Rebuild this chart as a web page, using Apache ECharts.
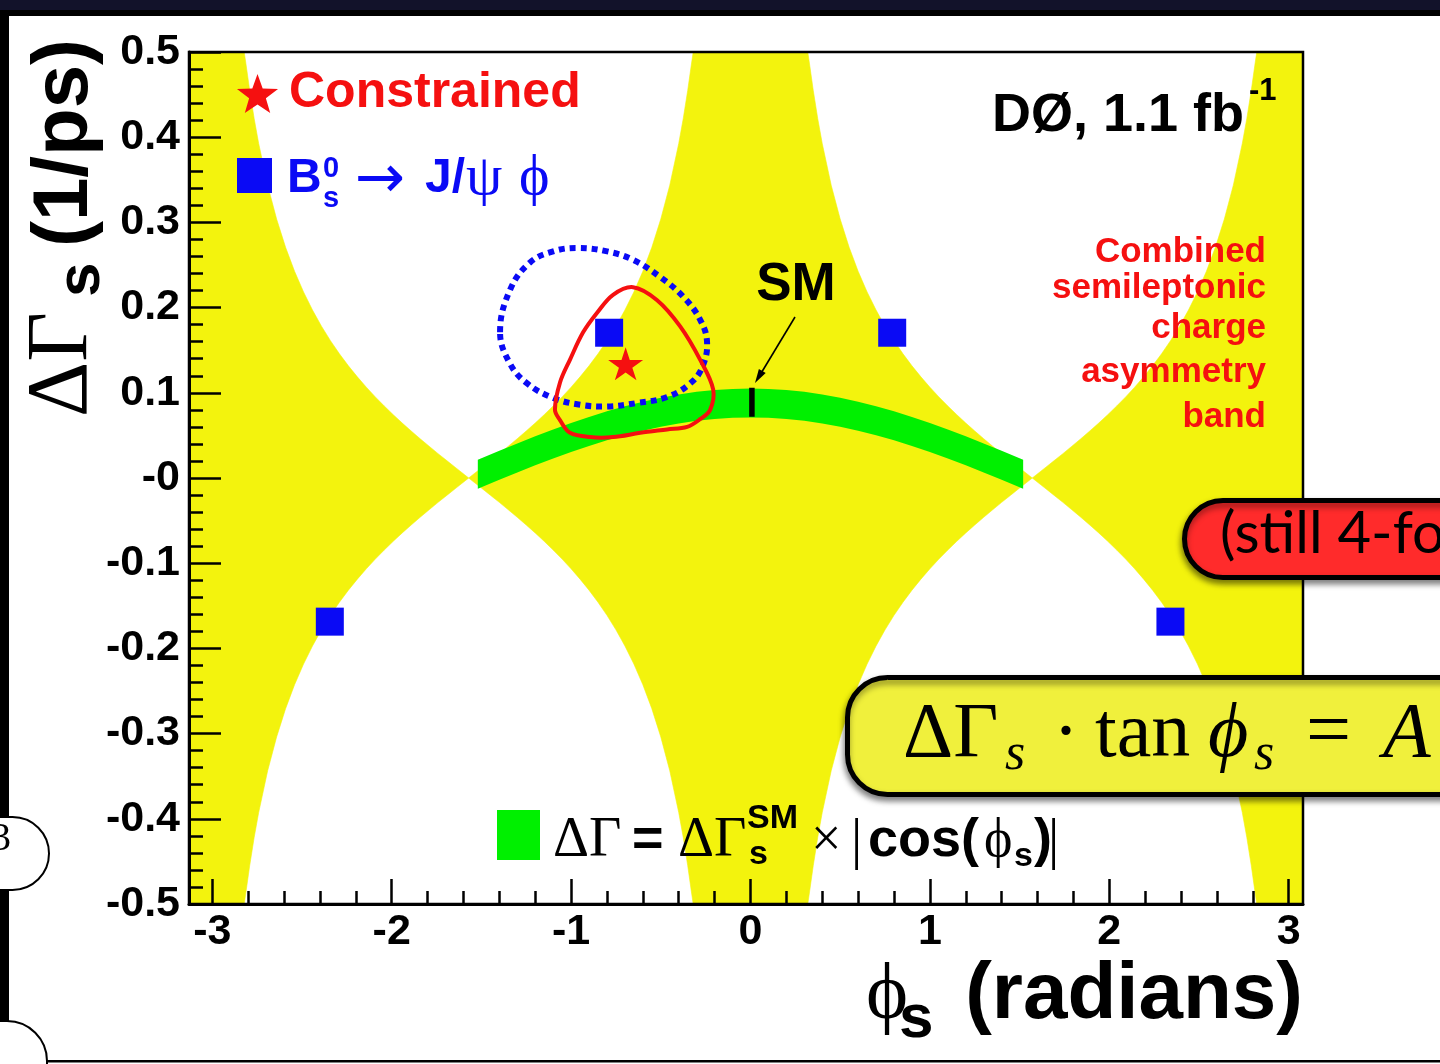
<!DOCTYPE html>
<html><head><meta charset="utf-8">
<script src="https://cdn.jsdelivr.net/npm/echarts@6/dist/echarts.min.js"></script>
<style>html,body{margin:0;padding:0;background:#fff;overflow:hidden}#c{width:1440px;height:1064px;}</style>
</head><body><div id="c"></div>
<script>
// ---------------- data ----------------
const xRange = [-3.13, 3.08];
const yRange = [-0.5, 0.5];
const xTicks = [-3, -2, -1, 0, 1, 2, 3];
const xTickLabels = ['-3', '-2', '-1', '0', '1', '2', '3'];
const xMinorTicks = [-2.8,-2.6,-2.4,-2.2,-1.8,-1.6,-1.4,-1.2,-0.8,-0.6,-0.4,-0.2,0.2,0.4,0.6,0.8,1.2,1.4,1.6,1.8,2.2,2.4,2.6,2.8];
const yTicks = [-0.5,-0.4,-0.3,-0.2,-0.1,0,0.1,0.2,0.3,0.4,0.5];
const yTickLabels = ['-0.5','-0.4','-0.3','-0.2','-0.1','-0','0.1','0.2','0.3','0.4','0.5'];
const yMinorTicks = [-0.48,-0.46,-0.44,-0.42,-0.38,-0.36,-0.34,-0.32,-0.28,-0.26,-0.24,-0.22,-0.18,-0.16,-0.14,-0.12,-0.08,-0.06,-0.04,-0.02,0.02,0.04,0.06,0.08,0.12,0.14,0.16,0.18,0.22,0.24,0.26,0.28,0.32,0.34,0.36,0.38,0.42,0.44,0.46,0.48];

// yellow asymmetry band edge: angular distance from phi = 0 (or from phi = ±pi) and |dGamma| of the edge
const yellowEdgeT  = [0.3194,0.33,0.35,0.375,0.40,0.45,0.50,0.55,0.60,0.65,0.70,0.75,0.80,0.85,0.90,0.95,1.00,1.05,1.10,1.15,1.20,1.25,1.30,1.35,1.40,1.45,1.50,1.5708];
const yellowEdgeDG = [0.500,0.4846,0.4548,0.4216,0.3926,0.3436,0.3039,0.2707,0.2426,0.2184,0.1971,0.1782,0.1612,0.1458,0.1317,0.1187,0.1066,0.0952,0.0845,0.0743,0.0645,0.0552,0.0461,0.0373,0.0286,0.0202,0.0118,0.0];

// green band dGamma = dGamma_SM * |cos(phi)|  (centre line and half width)
const greenPhi = [-1.52,-1.5,-1.4,-1.3,-1.2,-1.1,-1.0,-0.9,-0.8,-0.7,-0.6,-0.5,-0.4,-0.3,-0.2,-0.1,0,0.1,0.2,0.3,0.4,0.5,0.6,0.7,0.8,0.9,1.0,1.1,1.2,1.3,1.4,1.5,1.52];
const greenMid = [0.0045,0.0062,0.0150,0.0235,0.0319,0.0399,0.0475,0.0547,0.0613,0.0673,0.0726,0.0772,0.0811,0.0841,0.0862,0.0876,0.0880,0.0876,0.0862,0.0841,0.0811,0.0772,0.0726,0.0673,0.0613,0.0547,0.0475,0.0399,0.0319,0.0235,0.0150,0.0062,0.0045];
const greenHalf = 0.017;

// Bs -> J/psi phi contour (blue dotted)
const bluePhi = [-1.396,-1.340,-1.229,-1.100,-0.967,-0.799,-0.654,-0.504,-0.376,-0.281,-0.242,-0.269,-0.336,-0.465,-0.632,-0.799,-0.950,-1.100,-1.245,-1.340];
const blueDG  = [0.171,0.221,0.253,0.266,0.270,0.266,0.256,0.236,0.213,0.186,0.159,0.130,0.111,0.095,0.088,0.084,0.086,0.094,0.111,0.134];
// constrained contour (red)
const redPhi = [-0.655,-0.522,-0.392,-0.281,-0.208,-0.225,-0.281,-0.353,-0.465,-0.615,-0.766,-0.894,-1.006,-1.062,-1.090,-1.062,-1.006,-0.933,-0.855,-0.766];
const redDG  = [0.224,0.209,0.178,0.139,0.104,0.080,0.069,0.060,0.057,0.053,0.048,0.048,0.053,0.068,0.080,0.112,0.139,0.171,0.194,0.215];
// Bs -> J/psi phi best-fit points (4-fold ambiguity)
const squarePhi = [-0.788, 0.790, -2.345, 2.341];
const squareDG  = [0.1705, 0.1705, -0.1686, -0.1686];
// constrained best fit
const starPhi = [-0.696];
const starDG  = [0.134];
// SM prediction
const smPhi = [0.008, 0.008];
const smDG  = [0.072, 0.106];

// ---------------- styling ----------------
const YELLOW = '#f3f30d', GREEN = '#00f000', BLUE = '#0a0af5', RED = '#f51010';
const SANS = "'Liberation Sans', Arial, Helvetica, sans-serif";
const SERIF = "'Liberation Serif', 'Times New Roman', 'DejaVu Serif', serif";
const LATO = "Lato, 'Open Sans', sans-serif";
const DEJAVU = "'DejaVu Sans', sans-serif";
const KS = {sans: 0.29, serif: 0.285, lato: 0.30, dejavu: 0.29};
const STAR = 'path://M50,0L61.23,34.55L97.55,34.55L68.17,55.9L79.39,90.45L50,69.1L20.61,90.45L31.83,55.9L2.45,34.55L38.77,34.55Z';

function fontOf(o, size) {
  const fam = o.fam || 'sans';
  const family = fam === 'sans' ? SANS : fam === 'serif' ? SERIF : fam === 'dejavu' ? DEJAVU : LATO;
  return (o.italic ? 'italic ' : '') + (o.bold ? 'bold ' : '') + size + 'px ' + family;
}
function T(x, base, text, size, o) {
  o = o || {};
  const k = KS[o.fam || 'sans'];
  return { type: 'text', x: x, y: base - k * size, z: o.z || 60, silent: true,
    style: { text: text, font: fontOf(o, size), fill: o.color || '#000', align: o.align || 'left', verticalAlign: 'middle' } };
}
function TR(startY, baseX, text, size, o) { // rotated, reading bottom -> top
  o = o || {};
  const k = KS[o.fam || 'sans'];
  return { type: 'text', x: baseX - k * size, y: startY, rotation: Math.PI / 2, z: o.z || 60, silent: true,
    style: { text: text, font: fontOf(o, size), fill: o.color || '#000', align: 'left', verticalAlign: 'middle' } };
}
function starPts(cx, cy, R, r) {
  const p = [];
  for (let i = 0; i < 10; i++) {
    const a = -Math.PI / 2 + i * Math.PI / 5, rr = i % 2 ? r : R;
    p.push([cx + rr * Math.cos(a), cy + rr * Math.sin(a)]);
  }
  return p;
}
function labelFor(v, ticks, labels) {
  const i = ticks.findIndex(t => Math.abs(t - v) < 1e-6);
  return i >= 0 ? labels[i] : '';
}

// ---------------- build polygons from the read edges ----------------
const PI = Math.PI;
const idx = yellowEdgeT.map((_, i) => i);
const rev = idx.slice().reverse();
const yellowCentral = [].concat(
  rev.map(i => [-yellowEdgeT[i], yellowEdgeDG[i]]),
  idx.map(i => [yellowEdgeT[i], yellowEdgeDG[i]]),
  rev.map(i => [yellowEdgeT[i], -yellowEdgeDG[i]]),
  idx.map(i => [-yellowEdgeT[i], -yellowEdgeDG[i]])
);
const yellowLeft = [].concat([[xRange[0], yRange[1]]],
  idx.map(i => [-PI + yellowEdgeT[i], yellowEdgeDG[i]]),
  rev.map(i => [-PI + yellowEdgeT[i], -yellowEdgeDG[i]]),
  [[xRange[0], yRange[0]]]);
const yellowRight = [].concat([[xRange[1], yRange[1]]],
  idx.map(i => [PI - yellowEdgeT[i], yellowEdgeDG[i]]),
  rev.map(i => [PI - yellowEdgeT[i], -yellowEdgeDG[i]]),
  [[xRange[1], yRange[0]]]);
const yellowPolys = [yellowLeft, yellowCentral, yellowRight];
const greenPoly = [].concat(
  greenPhi.map((p, i) => [p, greenMid[i] + greenHalf]),
  greenPhi.map((p, i) => [p, greenMid[i] - greenHalf]).reverse());
const blueLoop = bluePhi.map((p, i) => [p, blueDG[i]]);
const redLoop = redPhi.map((p, i) => [p, redDG[i]]);

// ---------------- graphic (annotations, legend, slide overlays) ----------------
const G = [];
// slide frame
G.push({type:'rect', z:0, silent:true, shape:{x:0,y:0,width:1440,height:11}, style:{fill:'#12122a'}});
G.push({type:'rect', z:0, silent:true, shape:{x:0,y:10,width:1440,height:6}, style:{fill:'#000'}});
G.push({type:'rect', z:0, silent:true, shape:{x:0,y:14,width:9,height:1010}, style:{fill:'#000'}});
G.push({type:'rect', z:1, silent:true, shape:{x:-40,y:817,width:89,height:73,r:36.5}, style:{fill:'#fff', stroke:'#000', lineWidth:2}});
G.push(T(11, 851, '3', 40, {fam:'serif', align:'right', z:2}));
G.push({type:'rect', z:1, silent:true, shape:{x:-40,y:1021,width:87,height:100,r:40}, style:{fill:'#fff', stroke:'#000', lineWidth:2}});
G.push({type:'rect', z:1, silent:true, shape:{x:47,y:1060,width:1400,height:2.5}, style:{fill:'#000'}});

// legend: constrained
G.push({type:'polygon', z:60, silent:true, shape:{points: starPts(257.5, 95.6, 21.6, 8.8)}, style:{fill:RED}});
G.push(T(289, 108, 'Constrained', 50, {bold:true, color:RED}));
// legend: Bs -> J/psi phi
G.push({type:'rect', z:60, silent:true, shape:{x:237,y:158,width:35,height:35}, style:{fill:BLUE}});
G.push(T(287, 193, 'B', 48, {bold:true, color:BLUE}));
G.push(T(323, 177, '0', 29, {bold:true, color:BLUE}));
G.push(T(323, 207, 's', 29, {bold:true, color:BLUE}));
G.push({type:'text', x:355, y:181, z:60, silent:true, style:{text:'\u2192', font:'60px ' + DEJAVU, fill:BLUE, align:'left', verticalAlign:'middle'}});
G.push(T(425, 193, 'J/', 48, {bold:true, color:BLUE}));
G.push(T(466, 195, '\u03C8', 58, {fam:'serif', color:BLUE}));
G.push(T(519, 195, '\u03D5', 58, {fam:'serif', color:BLUE}));
// experiment label
G.push(T(992, 132, 'D\u00D8, 1.1 fb', 54, {bold:true}));
G.push(T(1249, 100, '-1', 31, {bold:true}));
// asymmetry band label
const bandLines = ['Combined', 'semileptonic', 'charge', 'asymmetry', 'band'];
const bandBase = [262, 298, 338, 382, 427];
bandLines.forEach((s, i) => G.push(T(1266, bandBase[i], s, 35, {bold:true, color:RED, align:'right'})));
// SM label + arrow
G.push(T(796, 301, 'SM', 53, {bold:true, align:'center'}));
G.push({type:'polyline', z:60, silent:true, shape:{points:[[795,317],[760,375]]}, style:{stroke:'#000', lineWidth:1.6, fill:null}});
G.push({type:'polygon', z:60, silent:true, shape:{points:[[755,383],[765.7,373.1],[758.9,368.9]]}, style:{fill:'#000'}});
// green legend
G.push({type:'rect', z:60, silent:true, shape:{x:497,y:810,width:43,height:50}, style:{fill:GREEN}});
G.push(T(553, 857, '\u0394\u0393', 56, {fam:'serif'}));
G.push(T(632, 857, '=', 54, {bold:true}));
G.push(T(678, 857, '\u0394\u0393', 56, {fam:'serif'}));
G.push(T(747, 828, 'SM', 34, {bold:true}));
G.push(T(749, 864, 's', 34, {bold:true}));
G.push(T(811, 857, '\u00D7', 54, {fam:'serif'}));
G.push(T(851, 859, '|', 56, {fam:'serif'}));
G.push(T(868, 857, 'cos(', 54, {bold:true}));
G.push(T(984, 857, '\u03D5', 54, {fam:'serif'}));
G.push(T(1014, 866, 's', 34, {bold:true}));
G.push(T(1034, 857, ')', 54, {bold:true}));
G.push(T(1048, 859, '|', 56, {fam:'serif'}));
// axis titles
G.push(TR(417, 88, '\u0394\u0393', 86, {fam:'serif'}));
G.push(TR(297, 100, 's', 62, {bold:true}));
G.push(TR(247, 88, '(1/ps)', 78, {bold:true}));
G.push(T(866, 1020, '\u03D5', 80, {fam:'serif'}));
G.push(T(899, 1038, 's', 62, {bold:true}));
G.push(T(1303, 1019, '(radians)', 80, {bold:true, align:'right'}));

// slide overlays
G.push({type:'rect', z:100, silent:true, shape:{x:1184.5,y:500.5,width:400,height:77,r:38.5},
  style:{fill:'#ff2b2b', stroke:'#000', lineWidth:5, shadowBlur:6, shadowOffsetY:4, shadowOffsetX:-1, shadowColor:'rgba(0,0,0,0.45)'}});
G.push(T(1220, 552, '(still 4-fo', 58, {fam:'lato', z:101}));
G.push({type:'rect', z:100, silent:true, shape:{x:847.5,y:677.5,width:700,height:117,r:40},
  style:{fill:'#f0f03c', stroke:'#000', lineWidth:5, shadowBlur:6, shadowOffsetY:4, shadowOffsetX:-1, shadowColor:'rgba(0,0,0,0.45)'}});
G.push(T(903, 758, '\u0394\u0393', 78, {fam:'serif', z:101}));
G.push(T(1005, 770, 's', 52, {fam:'serif', italic:true, z:101}));
G.push(T(1053, 758, '\u00B7', 78, {fam:'serif', z:101}));
G.push(T(1095, 758, 'tan', 78, {fam:'serif', z:101}));
G.push(T(1208, 758, '\u03D5', 78, {fam:'serif', italic:true, z:101}));
G.push(T(1254, 770, 's', 52, {fam:'serif', italic:true, z:101}));
G.push(T(1306, 758, '=', 80, {fam:'serif', z:101}));
G.push(T(1383, 758, 'A', 78, {fam:'serif', italic:true, z:101}));

// ---------------- chart ----------------
const axisFont = {color:'#000', fontFamily: SANS, fontWeight:'bold', fontSize:43};
const option = {
  animation: false,
  backgroundColor: '#fff',
  grid: {left:189, top:52, width:1114, height:852, show:true, backgroundColor:'transparent', borderColor:'#000', borderWidth:2.5, z:8},
  xAxis: [
    {type:'value', min:xRange[0], max:xRange[1], position:'bottom', z:9,
     axisLine:{show:true, onZero:false, lineStyle:{color:'#000', width:3}},
     axisTick:{show:true, inside:true, length:25, customValues:xTicks, lineStyle:{color:'#000', width:2.5}},
     axisLabel:Object.assign({show:true, customValues:xTicks, margin:7, formatter: v => labelFor(v, xTicks, xTickLabels)}, axisFont),
     splitLine:{show:false}},
    {type:'value', min:xRange[0], max:xRange[1], position:'bottom', z:9,
     axisLine:{show:false, onZero:false}, axisLabel:{show:false}, splitLine:{show:false},
     axisTick:{show:true, inside:true, length:13, customValues:xMinorTicks, lineStyle:{color:'#000', width:2.5}}}
  ],
  yAxis: [
    {type:'value', min:yRange[0], max:yRange[1], position:'left', z:9,
     axisLine:{show:true, onZero:false, lineStyle:{color:'#000', width:3}},
     axisTick:{show:true, inside:true, length:32, customValues:yTicks, lineStyle:{color:'#000', width:2.5}},
     axisLabel:Object.assign({show:true, customValues:yTicks, margin:9, formatter: v => labelFor(v, yTicks, yTickLabels)}, axisFont),
     splitLine:{show:false}},
    {type:'value', min:yRange[0], max:yRange[1], position:'left', z:9,
     axisLine:{show:false, onZero:false}, axisLabel:{show:false}, splitLine:{show:false},
     axisTick:{show:true, inside:true, length:14, customValues:yMinorTicks, lineStyle:{color:'#000', width:2.5}}}
  ],
  series: [
    {type:'custom', name:'Combined semileptonic charge asymmetry band', coordinateSystem:'cartesian2d', xAxisIndex:0, yAxisIndex:0, z:1, silent:true,
     itemStyle:{color:YELLOW},
     renderItem:(params, api) => ({type:'polygon', shape:{points: yellowPolys[params.dataIndex].map(p => api.coord(p))}, style:{fill:YELLOW, stroke:YELLOW, lineWidth:0.6}}),
     data: yellowPolys.map(() => [0, 0])},
    {type:'custom', name:'\u0394\u0393 = \u0394\u0393s(SM) \u00D7 |cos(\u03C6s)|', coordinateSystem:'cartesian2d', xAxisIndex:0, yAxisIndex:0, z:2, silent:true,
     itemStyle:{color:GREEN},
     renderItem:(params, api) => ({type:'polygon', shape:{points: greenPoly.map(p => api.coord(p))}, style:{fill:GREEN}}),
     data:[[0, 0]]},
    {type:'custom', name:'Bs \u2192 J/\u03C8 \u03C6 contour', coordinateSystem:'cartesian2d', xAxisIndex:0, yAxisIndex:0, z:3, silent:true,
     renderItem:(params, api) => ({type:'polygon', shape:{points: blueLoop.map(p => api.coord(p)), smooth:0.4},
       style:{fill:'none', stroke:BLUE, lineWidth:6, lineDash:[6,5], lineCap:'butt'}}),
     data:[[0, 0]]},
    {type:'custom', name:'Constrained contour', coordinateSystem:'cartesian2d', xAxisIndex:0, yAxisIndex:0, z:4, silent:true,
     renderItem:(params, api) => ({type:'polygon', shape:{points: redLoop.map(p => api.coord(p)), smooth:0.35},
       style:{fill:'none', stroke:RED, lineWidth:4}}),
     data:[[0, 0]]},
    {type:'line', name:'SM', xAxisIndex:0, yAxisIndex:0, z:5, silent:true, symbol:'none',
     lineStyle:{color:'#000', width:5.5}, data: smPhi.map((p, i) => [p, smDG[i]])},
    {type:'scatter', name:'Bs \u2192 J/\u03C8 \u03C6', xAxisIndex:0, yAxisIndex:0, z:6, silent:true, symbol:'rect', symbolSize:28,
     itemStyle:{color:BLUE, opacity:1}, data: squarePhi.map((p, i) => [p, squareDG[i]])},
    {type:'scatter', name:'Constrained', xAxisIndex:0, yAxisIndex:0, z:7, silent:true, symbol:STAR, symbolSize:[35,33],
     itemStyle:{color:RED, opacity:1}, data: starPhi.map((p, i) => [p, starDG[i]])}
  ],
  graphic: {elements: G}
};
const chart = echarts.init(document.getElementById('c'), null, {renderer:'canvas', width:1440, height:1064});
chart.setOption(option);
</script>
</body></html>
